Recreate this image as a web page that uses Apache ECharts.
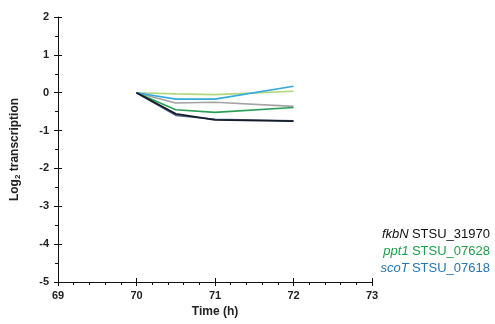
<!DOCTYPE html>
<html>
<head>
<meta charset="utf-8">
<script src="https://cdn.jsdelivr.net/npm/echarts@6/dist/echarts.min.js"></script>
<style>
  html, body { margin: 0; padding: 0; background: #fff; }
  #main { width: 495px; height: 324px; }
</style>
</head>
<body>
<div id="main"></div>
<script>
// sampling times (h)
var times = [70, 70.5, 71, 72];

// log2 transcription
var lightGreen = [0, -0.03, -0.05, 0.04];
var lightBlue  = [0, -0.17, -0.17, 0.17];
var grey       = [0, -0.27, -0.25, -0.36];
var green      = [0, -0.45, -0.52, -0.39];
var slate      = [0, -0.60, -0.70, -0.74];
var navy       = [0, -0.56, -0.72, -0.75];

var xTicks = [69, 70, 71, 72, 73];
var yTicks = [-5, -4, -3, -2, -1, 0, 1, 2];

var legendLines = [
  { gene: 'fkbN', id: 'STSU_31970', color: '#111111' },
  { gene: 'ppt1', id: 'STSU_07628', color: '#1e9e4a' },
  { gene: 'scoT', id: 'STSU_07618', color: '#2576b5' }
];

function pairs(ys) {
  return times.map(function (t, i) { return [t, ys[i]]; });
}

function line(name, ys, color, width) {
  return {
    name: name,
    type: 'line',
    data: pairs(ys),
    symbol: 'none',
    smooth: false,
    lineStyle: { color: color, width: width || 1.6 },
    silent: true
  };
}

var myChart = echarts.init(document.getElementById('main'));

var labelFont = {
  color: '#222',
  fontFamily: 'Liberation Sans, Arial, sans-serif',
  fontWeight: 'bold',
  fontSize: 11
};

var option = {
  animation: false,
  grid: { left: 58, right: 123, top: 17, bottom: 42 },
  xAxis: [
    {
      type: 'value',
      min: xTicks[0],
      max: xTicks[xTicks.length - 1],
      interval: 1,
      name: 'Time (h)',
      nameLocation: 'middle',
      nameGap: 23,
      nameTextStyle: {
        color: '#222',
        fontFamily: 'Liberation Sans, Arial, sans-serif',
        fontWeight: 'bold',
        fontSize: 12
      },
      axisLine: { onZero: false, lineStyle: { color: '#111', width: 1 } },
      axisTick: { length: 4, lineStyle: { color: '#111' } },
      minorTick: { show: true, splitNumber: 5, length: 3, lineStyle: { color: '#111' } },
      axisLabel: Object.assign({ margin: 8 }, labelFont),
      splitLine: { show: false }
    },
    {
      type: 'value',
      position: 'bottom',
      min: xTicks[0],
      max: xTicks[xTicks.length - 1],
      interval: 1,
      axisLine: { show: false, onZero: false },
      axisTick: { inside: true, length: 4, lineStyle: { color: '#111' } },
      axisLabel: { show: false },
      splitLine: { show: false }
    }
  ],
  yAxis: [
    {
      type: 'value',
      min: yTicks[0],
      max: yTicks[yTicks.length - 1],
      interval: 1,
      name: '{a|Log}{s|2}{a| transcription}',
      nameLocation: 'middle',
      nameGap: 36,
      nameRotate: 90,
      nameTextStyle: {
        rich: {
          a: {
            color: '#222',
            fontFamily: 'Liberation Sans, Arial, sans-serif',
            fontWeight: 'bold',
            fontSize: 12
          },
          s: {
            color: '#222',
            fontFamily: 'Liberation Sans, Arial, sans-serif',
            fontWeight: 'bold',
            fontSize: 8,
            padding: [6, 0, 0, 0]
          }
        }
      },
      axisLine: { show: true, onZero: false, lineStyle: { color: '#111', width: 1 } },
      axisTick: { show: true, length: 4, lineStyle: { color: '#111' } },
      minorTick: { show: true, splitNumber: 2, length: 3, lineStyle: { color: '#111' } },
      axisLabel: Object.assign({ margin: 9 }, labelFont),
      splitLine: { show: false }
    },
    {
      type: 'value',
      position: 'left',
      min: yTicks[0],
      max: yTicks[yTicks.length - 1],
      interval: 1,
      axisLine: { show: false, onZero: false },
      axisTick: { show: true, inside: true, length: 4, lineStyle: { color: '#111' } },
      axisLabel: { show: false },
      splitLine: { show: false }
    }
  ],
  series: [
    line('lightGreen', lightGreen, '#b2d67c'),
    line('grey', grey, '#a3a3a3'),
    line('green', green, '#27a055'),
    line('lightBlue', lightBlue, '#36a9dd'),
    line('slate', slate, '#56698a', 1.6),
    line('navy', navy, '#141c2c', 1.8)
  ],
  graphic: legendLines.map(function (l, i) {
    return {
      type: 'text',
      right: 5,
      top: 228 + i * 17,
      style: {
        text: '{g|' + l.gene + '} {n|' + l.id + '}',
        rich: {
          g: {
            fill: l.color,
            fontFamily: 'Liberation Sans, Arial, sans-serif',
            fontStyle: 'italic',
            fontSize: 13
          },
          n: {
            fill: l.color,
            fontFamily: 'Liberation Sans, Arial, sans-serif',
            fontSize: 13
          }
        }
      }
    };
  })
};

if (option && typeof option === 'object') {
  myChart.setOption(option);
}
</script>
</body>
</html>
